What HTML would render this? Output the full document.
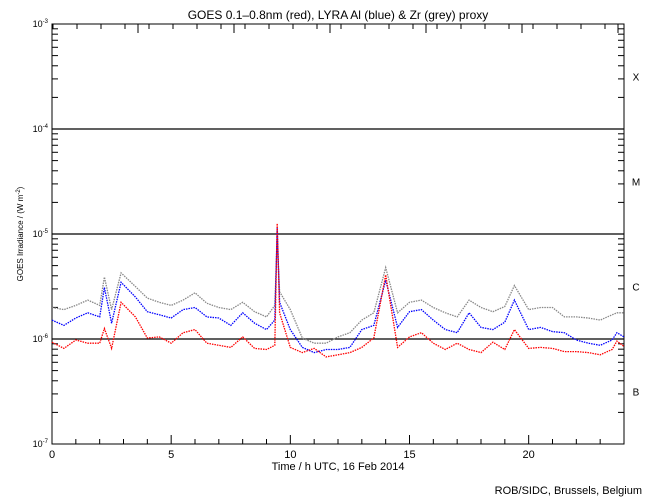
<!DOCTYPE html>
<html><head><meta charset="utf-8"><style>
body{margin:0;background:#fff}
svg{display:block;font-family:"Liberation Sans",sans-serif}
</style></head><body>
<svg id="chart" width="650" height="500" viewBox="0 0 650 500">
<rect width="650" height="500" fill="#fff"/>
<text x="338" y="19" font-size="12" text-anchor="middle">GOES 0.1–0.8nm (red), LYRA Al (blue) &amp; Zr (grey) proxy</text>
<g id="axes"></g>
<g id="series"></g>
<text transform="translate(23,234) rotate(-90)" font-size="8" text-anchor="middle">GOES Irradiance / (W m<tspan font-size="6" dy="-3">-2</tspan><tspan dy="3">)</tspan></text>
<text x="338" y="470" font-size="11" text-anchor="middle">Time / h UTC, 16 Feb 2014</text>
<text x="642" y="494" font-size="11" text-anchor="end">ROB/SIDC, Brussels, Belgium</text>
</svg>
<script>
const hours=[0,0.5,1,1.5,2,2.2,2.5,2.9,3.5,4,4.5,5,5.5,6,6.5,7,7.5,8,8.5,9,9.35,9.45,9.55,10,10.5,11,11.5,12,12.5,13,13.5,14,14.5,15,15.5,16,16.5,17,17.5,18,18.5,19,19.4,20,20.5,21,21.5,22,22.5,23,23.5,23.7,24];
const goesLog=[-6.03,-6.09,-6.01,-6.04,-6.04,-5.90,-6.09,-5.65,-5.79,-5.99,-5.98,-6.04,-5.94,-5.91,-6.04,-6.06,-6.08,-5.98,-6.09,-6.10,-6.06,-4.90,-5.75,-6.08,-6.13,-6.09,-6.17,-6.15,-6.13,-6.08,-5.99,-5.39,-6.08,-5.98,-5.94,-6.04,-6.10,-6.04,-6.10,-6.13,-6.03,-6.10,-5.91,-6.09,-6.08,-6.09,-6.12,-6.12,-6.13,-6.15,-6.10,-6.02,-6.07];
const alLog=[-5.82,-5.87,-5.80,-5.75,-5.79,-5.51,-5.85,-5.46,-5.60,-5.74,-5.77,-5.80,-5.72,-5.70,-5.79,-5.80,-5.87,-5.75,-5.85,-5.91,-5.82,-4.94,-5.65,-5.91,-6.08,-6.13,-6.10,-6.10,-6.08,-5.91,-5.87,-5.44,-5.89,-5.74,-5.72,-5.82,-5.91,-5.94,-5.75,-5.89,-5.91,-5.84,-5.63,-5.91,-5.89,-5.93,-5.94,-6.01,-6.04,-6.06,-6.01,-5.94,-5.98];
const zrLog=[-5.70,-5.72,-5.68,-5.63,-5.68,-5.41,-5.72,-5.37,-5.50,-5.61,-5.65,-5.68,-5.63,-5.56,-5.66,-5.70,-5.72,-5.65,-5.74,-5.79,-5.68,-5.06,-5.55,-5.72,-5.99,-6.04,-6.04,-5.98,-5.94,-5.82,-5.75,-5.32,-5.75,-5.65,-5.63,-5.70,-5.75,-5.79,-5.63,-5.70,-5.74,-5.69,-5.49,-5.72,-5.70,-5.70,-5.79,-5.79,-5.80,-5.82,-5.77,-5.75,-5.75];
const xTicks=[0,5,10,15,20];
const yDecades=[-7,-6,-5,-4,-3];
const classLabels=["B","C","M","X"];

const NS="http://www.w3.org/2000/svg";
const L=52,R=624,T=24,B=444;
const xs=h=>L+(R-L)*h/24;
const ys=lg=>B-(B-T)*(lg+7)/4;
const ax=document.getElementById('axes');
function mk(tag,attrs,parent){const e=document.createElementNS(NS,tag);for(const k in attrs)e.setAttribute(k,attrs[k]);parent.appendChild(e);return e;}

const frame=mk('rect',{x:L,y:T,width:R-L,height:B-T,fill:'none',stroke:'#000','stroke-width':1},ax);



[-6,-5,-4].forEach(d=>{
  const ln=mk('line',{x1:L,x2:R,y1:ys(d),y2:ys(d),stroke:'#000','stroke-width':1.3},ax);
  
  
});
yDecades.forEach((d,i)=>{
  const y=ys(d);
  const t=mk('text',{x:L-4,y:y+3,'font-size':9,'text-anchor':'end'},ax);
  
  
  t.innerHTML='10<tspan font-size="6" dy="-4">'+d+'</tspan>';
  if(i<yDecades.length-1){
    for(let m=2;m<=9;m++){
      const yy=ys(d+Math.log10(m));
      mk('line',{x1:L,x2:L+6,y1:yy,y2:yy,stroke:'#000'},ax);
      mk('line',{x1:R-6,x2:R,y1:yy,y2:yy,stroke:'#000'},ax);
    }
    const c=mk('text',{x:636,y:ys(d+0.5)+4,'font-size':10,'text-anchor':'middle'},ax);
    
    
    c.textContent=classLabels[i];
  }
});
for(let h=0;h<=24;h++){
  const x=xs(h);const major=h%5===0;
  mk('line',{x1:x,x2:x,y1:B,y2:B-(major?9:5),stroke:'#000'},ax);
}
for(let x=53;x<R;x+=24){mk('line',{x1:x,x2:x,y1:T,y2:T+5,stroke:'#000'},ax);}
for(let x=138;x<R;x+=96){mk('line',{x1:x,x2:x,y1:T,y2:T+9,stroke:'#000'},ax);}
xTicks.forEach(h=>{
  const t=mk('text',{x:xs(h),y:B+14,'font-size':11,'text-anchor':'middle'},ax);
  
  
  t.textContent=h;
});
const sg=document.getElementById('series');
function drawSeries(vals,color,name){
  const pts=hours.map((h,i)=>xs(h).toFixed(1)+','+ys(vals[i]).toFixed(1)).join(' ');
  const p=mk('polyline',{points:pts,fill:'none',stroke:color,'stroke-width':1.3,'stroke-dasharray':'1.5 1'},sg);
  
  
}
drawSeries(zrLog,'#888','zr-proxy-series');
drawSeries(alLog,'#0000ff','al-proxy-series');
drawSeries(goesLog,'#ff0000','goes-series');
</script>
</body></html>
